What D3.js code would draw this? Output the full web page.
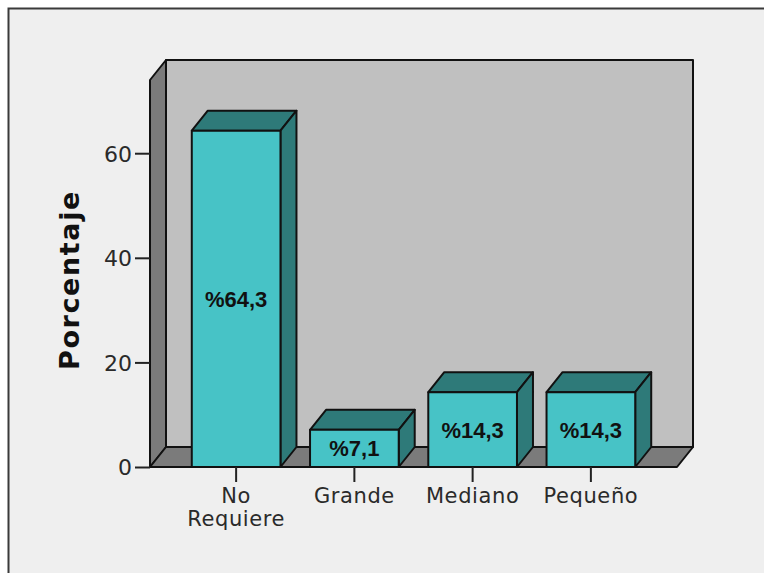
<!DOCTYPE html>
<html>
<head>
<meta charset="utf-8">
<script src="https://cdn.jsdelivr.net/npm/d3@7"></script>
<style>
  html, body { margin: 0; padding: 0; background: #ffffff; }
  svg { display: block; }
</style>
</head>
<body>
<div id="chart"></div>
<script>
// Share of respondents by category
const categories = [["No", "Requiere"], ["Grande"], ["Mediano"], ["Pequeño"]];
const percentages = [64.3, 7.1, 14.3, 14.3];
const yTicks = [0, 20, 40, 60];
const yTitle = "Porcentaje";

const W = 764, H = 573;
const depthX = 16, depthY = 20;   // oblique offset of the 3D box
const floorY = 467, topY = 80;    // front edge of the axis
const leftX = 150, rightX = 677;

const svg = d3.select("#chart").append("svg")
  .attr("width", W).attr("height", H);

// Outer frame
svg.append("rect").attr("x", 8.5).attr("y", 8.5)
  .attr("width", W + 10).attr("height", H + 10)
  .attr("fill", "#efefef").attr("stroke", "#3a3a3a").attr("stroke-width", 2);

const y = d3.scaleLinear().domain([0, 74]).range([floorY, topY]);
const x = d3.scaleBand()
  .domain(categories.map((c, i) => i))
  .range([177, 650])
  .paddingInner(0.25)
  .paddingOuter(0.125);

const poly = pts => pts.map(p => p.join(",")).join(" ");
const outline = { stroke: "#111", "stroke-width": 2, "stroke-linejoin": "round" };
function drawPoly(g, pts, fill) {
  const p = g.append("polygon").attr("points", poly(pts)).attr("fill", fill);
  Object.entries(outline).forEach(([k, v]) => p.attr(k, v));
  return p;
}

const box = svg.append("g");
// Back wall
drawPoly(box, [
  [leftX + depthX, topY - depthY], [rightX + depthX, topY - depthY],
  [rightX + depthX, floorY - depthY], [leftX + depthX, floorY - depthY]
], "#c0c0c0");
// Left wall
drawPoly(box, [
  [leftX, topY], [leftX + depthX, topY - depthY],
  [leftX + depthX, floorY - depthY], [leftX, floorY]
], "#7b7b7b");
// Floor
drawPoly(box, [
  [leftX, floorY], [leftX + depthX, floorY - depthY],
  [rightX + depthX, floorY - depthY], [rightX, floorY]
], "#7b7b7b");

// Y axis
const yAxis = d3.axisLeft(y).tickValues(yTicks).tickSize(15).tickPadding(3)
  .tickFormat(d3.format("d"));
const ya = svg.append("g").attr("transform", `translate(${leftX},0)`).call(yAxis);
ya.select(".domain").remove();
ya.selectAll(".tick line").attr("stroke", "#222").attr("stroke-width", 2);
ya.selectAll(".tick text")
  .attr("font-family", "DejaVu Sans").attr("font-size", 22).attr("fill", "#2a2a2a")
  .attr("dy", "0.36em");

// Bars
const bars = svg.append("g");
percentages.forEach((v, i) => {
  const x0 = x(i), x1 = x(i) + x.bandwidth(), yv = y(v), y0 = y(0);
  const g = bars.append("g");
  // top
  drawPoly(g, [[x0, yv], [x0 + depthX, yv - depthY], [x1 + depthX, yv - depthY], [x1, yv]], "#2e7a79");
  // side
  drawPoly(g, [[x1, yv], [x1 + depthX, yv - depthY], [x1 + depthX, y0 - depthY], [x1, y0]], "#2e7a79");
  // front
  drawPoly(g, [[x0, yv], [x1, yv], [x1, y0], [x0, y0]], "#47c3c6");
  g.append("text")
    .attr("x", (x0 + x1) / 2)
    .attr("y", (yv + y0) / 2 + 8)
    .attr("text-anchor", "middle")
    .attr("font-family", "Liberation Sans").attr("font-weight", "bold")
    .attr("font-size", 22).attr("fill", "#111")
    .text("%" + d3.format(".1f")(v).replace(".", ","));
});

// Floor front edge / category axis
svg.append("line").attr("x1", leftX).attr("x2", rightX)
  .attr("y1", floorY).attr("y2", floorY)
  .attr("stroke", "#111").attr("stroke-width", 2);

const xa = svg.append("g");
categories.forEach((lines, i) => {
  const cx = x(i) + x.bandwidth() / 2;
  xa.append("line").attr("x1", cx).attr("x2", cx)
    .attr("y1", floorY).attr("y2", floorY + 15)
    .attr("stroke", "#222").attr("stroke-width", 2);
  const t = xa.append("text").attr("text-anchor", "middle")
    .attr("font-family", "DejaVu Sans").attr("font-size", 21)
    .attr("letter-spacing", 0.6).attr("fill", "#2a2a2a");
  lines.forEach((s, k) => {
    t.append("tspan").attr("x", cx).attr("y", 503 + k * 23).text(s);
  });
});

// Y title
svg.append("text")
  .attr("transform", "translate(79,280) rotate(-90)")
  .attr("text-anchor", "middle")
  .attr("font-family", "DejaVu Sans").attr("font-weight", "bold")
  .attr("font-size", 27).attr("letter-spacing", 1.6).attr("fill", "#111")
  .text(yTitle);
</script>
</body>
</html>
